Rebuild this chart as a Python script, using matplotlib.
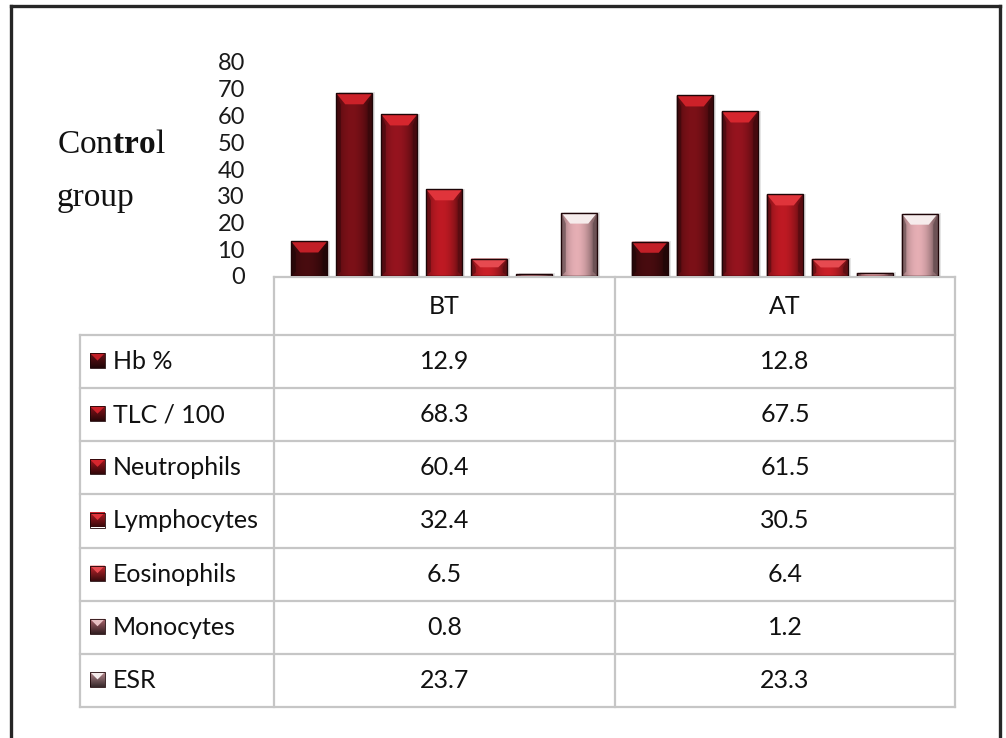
import numpy as np
import matplotlib
matplotlib.use("Agg")
import matplotlib.pyplot as plt
from matplotlib.patches import Polygon, Rectangle
from matplotlib.colors import to_rgb

# ---- data ----
groups = ["BT", "AT"]
parameters = ["Hb %", "TLC / 100", "Neutrophils", "Lymphocytes",
              "Eosinophils", "Monocytes", "ESR"]
bt_values = [12.9, 68.3, 60.4, 32.4, 6.5, 0.8, 23.7]
at_values = [12.8, 67.5, 61.5, 30.5, 6.4, 1.2, 23.3]
y_ticks = [0, 10, 20, 30, 40, 50, 60, 70, 80]

# ---- styling ----
body_colors = ["#3e0a0d", "#6a0e14", "#80111a", "#a3161e", "#ad1b22", "#bf7c82", "#c4959a"]
top_colors = ["#c21f27", "#cc2129", "#d6262e", "#e0343b", "#e64a50", "#e6c0c3", "#f6ecec"]
key_colors = ["#6a1217", "#8a141b", "#a5171f", "#b81c24", "#c0262d", "#a8646c", "#b88a90"]
edge_color = "#1e0507"

plt.rcParams["mathtext.fontset"] = "custom"
plt.rcParams["mathtext.rm"] = "Liberation Serif"
plt.rcParams["mathtext.bf"] = "Liberation Serif:bold"

W, H = 1006, 738
fig = plt.figure(figsize=(W / 100, H / 100), dpi=100)
fig.patch.set_facecolor("white")

# overlay in pixel coordinates for the frame, table and side text
ov = fig.add_axes([0, 0, 1, 1])
ov.set_xlim(0, W)
ov.set_ylim(H, 0)
ov.axis("off")

# chart axes sitting on top of the table header
x_left, x_right = 274, 955
y_base, y_top = 276, 62
ax = fig.add_axes([x_left / W, 1 - y_base / H, (x_right - x_left) / W, (y_base - y_top) / H])
ax.patch.set_alpha(0)

xlim = (-0.5, 1.5)
ylim = (0, 80)
px_x = (xlim[1] - xlim[0]) / (x_right - x_left)   # data units per pixel (x)
px_y = (ylim[1] - ylim[0]) / (y_base - y_top)      # data units per pixel (y)

n = len(parameters)
pitch = 45 * px_x
bar_w = 36 * px_x
xpos = np.arange(len(groups))


def mix(c, other, t):
    c = np.array(to_rgb(c))
    o = np.array(to_rgb(other))
    return tuple(c * (1 - t) + o * t)


for i, name in enumerate(parameters):
    vals = [bt_values[i], at_values[i]]
    bars = ax.bar(xpos + (i - (n - 1) / 2) * pitch, vals, width=bar_w,
                  color=body_colors[i], edgecolor="none", zorder=3)
    base = np.array(to_rgb(body_colors[i]))
    for patch in bars.patches:
        x0, w, h = patch.get_x(), patch.get_width(), patch.get_height()
        # soft shadow on the right
        ax.add_patch(Rectangle((x0 + 3 * px_x, 0), w, h + 0.3, color="#000000",
                               alpha=0.10, lw=0, zorder=2.5))
        # horizontal shading across the bar body
        t = np.linspace(0, 1, 64)
        prof = 0.72 + 0.45 * np.sin(np.pi * np.clip(t * 1.15, 0, 1)) ** 0.8
        img = np.clip(base[None, :] * prof[:, None], 0, 1)[None, :, :]
        im = ax.imshow(img, extent=[x0, x0 + w, 0, h], aspect="auto",
                       interpolation="bilinear", zorder=3.1)
        im.set_clip_path(patch)
        # bevels
        b = min(9 * px_x, w / 2)
        d = min(11 * px_y, h / 2)
        top = h
        ax.add_patch(Polygon([(x0, top), (x0 + w, top), (x0 + w - b, top - d), (x0 + b, top - d)],
                             closed=True, color=top_colors[i], lw=0, zorder=3.2))
        ax.add_patch(Polygon([(x0, 0), (x0 + b * 0.5, d * 0.4), (x0 + b * 0.5, top - d), (x0, top)],
                             closed=True, color=mix(body_colors[i], "black", 0.35), lw=0, zorder=3.2))
        ax.add_patch(Polygon([(x0 + w, 0), (x0 + w - b * 0.5, d * 0.4), (x0 + w - b * 0.5, top - d), (x0 + w, top)],
                             closed=True, color=mix(body_colors[i], "black", 0.45), lw=0, zorder=3.2))
        ax.add_patch(Rectangle((x0, 0), w, h, fill=False, ec=edge_color, lw=1.0, zorder=3.5))

ax.set_xlim(*xlim)
ax.set_ylim(*ylim)
ax.set_yticks(y_ticks)
ax.set_yticklabels([str(v) for v in y_ticks], family="Lato", fontsize=17, color="#1a1a1a")
ax.set_xticks([])
ax.tick_params(axis="y", length=0, pad=21)
for s in ax.spines.values():
    s.set_visible(False)

# ---- outer frame ----
frame_kw = dict(color="#262626", lw=2.4, solid_capstyle="projecting")
ov.plot([11, 1000], [6, 6], **frame_kw)
ov.plot([11, 11], [6, H], **frame_kw)
ov.plot([1000, 1000], [6, H], **frame_kw)

# ---- side label ----
ov.text(57, 145, "Con$\\mathbf{tro}$l", fontsize=24, family="Liberation Serif",
        va="center", ha="left", color="#111111")
ov.text(57, 198, "group", fontsize=24, family="Liberation Serif",
        va="center", ha="left", color="#111111")

# ---- data table ----
grid_color = "#c6c6c6"
glw = 1.6
label_left = 80
col_edges = [x_left, 615, x_right]
head_top, head_bot, table_bot = 277, 335, 707
row_h = (table_bot - head_bot) / n
txt_size = 18

ov.plot([x_left, x_right], [head_top, head_top], color=grid_color, lw=glw, zorder=1)
for xe in col_edges:
    ov.plot([xe, xe], [head_top, table_bot], color=grid_color, lw=glw, zorder=1)
ov.plot([label_left, label_left], [head_bot, table_bot], color=grid_color, lw=glw, zorder=1)
for r in range(n + 1):
    yy = head_bot + r * row_h
    ov.plot([label_left, x_right], [yy, yy], color=grid_color, lw=glw, zorder=1)

col_centers = [(col_edges[k] + col_edges[k + 1]) / 2 for k in range(len(groups))]
for k, g in enumerate(groups):
    ov.text(col_centers[k], (head_top + head_bot) / 2 + 1, g, family="Lato", fontsize=txt_size,
            ha="center", va="center", color="#111111")

table_vals = [bt_values, at_values]
for r, name in enumerate(parameters):
    yc = head_bot + (r + 0.5) * row_h
    # legend key with a vertical gradient and a bright top facet
    s = 15
    kx, ky = 90, yc - s / 2 - 1
    kc = np.array(to_rgb(key_colors[r]))
    dark = kc * 0.3
    tt = np.linspace(0, 1, 32)[:, None]
    kimg = (kc[None, :] * (1 - tt) + dark[None, :] * tt)[:, None, :]
    kimg = np.repeat(kimg, 4, axis=1)
    ov.imshow(kimg, extent=[kx, kx + s, ky + s, ky], aspect="auto", interpolation="bilinear", zorder=2)
    ov.add_patch(Polygon([(kx, ky), (kx + s, ky), (kx + s / 2, ky + s * 0.5)],
                         closed=True, color=top_colors[r], lw=0, zorder=2.1))
    ov.add_patch(Rectangle((kx, ky), s, s, fill=False, ec=edge_color, lw=0.6, zorder=2.2))
    ov.text(113, yc, name, family="Lato", fontsize=txt_size, ha="left", va="center", color="#111111")
    for k in range(len(groups)):
        ov.text(col_centers[k], yc, f"{table_vals[k][r]:.1f}", family="Lato", fontsize=txt_size,
                ha="center", va="center", color="#111111")

ov.set_xlim(0, W)
ov.set_ylim(H, 0)

fig.savefig("out.png", dpi=100, facecolor="white")
